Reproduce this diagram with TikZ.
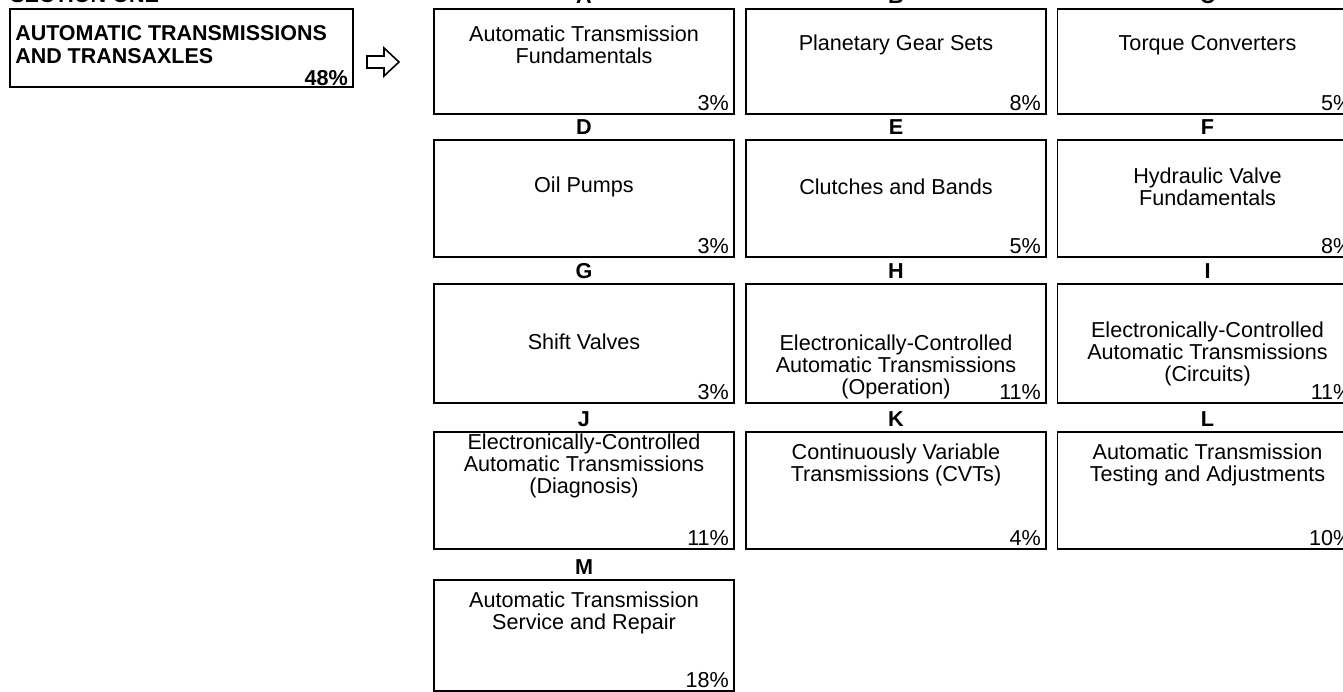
\documentclass[tikz,border=0pt]{standalone}
\usepackage{fontspec}
\setmainfont{Liberation Sans}
\usetikzlibrary{positioning}

\begin{document}
\begin{tikzpicture}[
    x=0.75pt, y=-0.75pt, % pixel grid, y pointing down
    % Styles
    topic/.style={ % Box of one subject
        draw,
        line width=1.2pt,
        minimum width=225pt,
        minimum height=87.75pt,
        inner sep=0pt
    },
    topictext/.style={ % Name of the subject
        align=center,
        inner sep=0pt,
        font=\fontsize{16.2}{16.5}\selectfont
    },
    share/.style={ % Weight in the lower right corner
        anchor=south east,
        xshift=-4.2pt,
        yshift=2.6pt,
        inner sep=0pt,
        font=\fontsize{16.2}{16.5}\selectfont
    },
    letter/.style={ % Letter above a box
        inner sep=0pt,
        font=\fontsize{16.2}{16.5}\selectfont\bfseries
    }
]
    \useasboundingbox (0,0) rectangle (1343,692);
    \clip (0,0) rectangle (1343,692);

    % Section box
    \node[letter, anchor=base west] (sec) at (10,2.5) {SECTION ONE};
    \node[topic, minimum width=257.25pt, minimum height=58.5pt] (main) at (181.5,48) {};
    \node[topictext, align=left, anchor=west, font=\fontsize{16.1}{17.25}\selectfont\bfseries] (maintxt) at (15,44.5) {AUTOMATIC TRANSMISSIONS\\AND TRANSAXLES};
    \node[share, yshift=-1.2pt, font=\fontsize{16.2}{16.5}\selectfont\bfseries] (pmain) at (main.south east) {48\%};

    % Block arrow
    \coordinate (arr) at (367,62);
    \draw[line width=1.2pt, miter limit=3] (arr) ++(0,-6) -- ++(17,0) -- ++(0,-8) -- ++(15,14) -- ++(-15,14) -- ++(0,-8) -- ++(-17,0) -- cycle;

    % Subject boxes
    \node[topic, minimum height=78.75pt] (A) at (584,61.5) {};
    \node[topic, minimum height=78.75pt] (B) at (896,61.5) {};
    \node[topic, minimum height=78.75pt] (C) at (1207.5,61.5) {};
    \node[topic] (D) at (584,198.5) {};
    \node[topic] (E) at (896,198.5) {};
    \node[topic] (F) at (1207.5,198.5) {};
    \node[topic, minimum height=89.25pt] (G) at (584,343.5) {};
    \node[topic, minimum height=89.25pt] (H) at (896,343.5) {};
    \node[topic, minimum height=89.25pt] (I) at (1207.5,343.5) {};
    \node[topic] (J) at (584,490.5) {};
    \node[topic] (K) at (896,490.5) {};
    \node[topic] (L) at (1207.5,490.5) {};
    \node[topic, minimum height=83.25pt] (M) at (584,635.5) {};

    % Letters
    \node[letter, above=3pt of A] (lA) {A};
    \node[letter, above=3pt of B] (lB) {B};
    \node[letter, above=3pt of C] (lC) {C};
    \node[letter, above=3pt of D] (lD) {D};
    \node[letter, above=3pt of E] (lE) {E};
    \node[letter, above=3pt of F] (lF) {F};
    \node[letter, above=3pt of G] (lG) {G};
    \node[letter, above=3pt of H] (lH) {H};
    \node[letter, above=3pt of I] (lI) {I};
    \node[letter, above=3pt of J] (lJ) {J};
    \node[letter, above=3pt of K] (lK) {K};
    \node[letter, above=3pt of L] (lL) {L};
    \node[letter, above=3pt of M] (lM) {M};

    % Subject names
    \node[topictext] (tA) at (584,45) {Automatic Transmission\\Fundamentals};
    \node[topictext] (tB) at (896,45) {Planetary Gear Sets};
    \node[topictext] (tC) at (1207.5,45) {Torque Converters};
    \node[topictext] (tD) at (584,187) {Oil Pumps};
    \node[topictext] (tE) at (896,187) {Clutches and Bands};
    \node[topictext] (tF) at (1207.5,187) {Hydraulic Valve\\Fundamentals};
    \node[topictext] (tG) at (584,342) {Shift Valves};
    \node[topictext] (tH) at (896,367) {Electronically-Controlled\\Automatic Transmissions\\(Operation)};
    \node[topictext] (tI) at (1207.5,354) {Electronically-Controlled\\Automatic Transmissions\\(Circuits)};
    \node[topictext] (tJ) at (584,466) {Electronically-Controlled\\Automatic Transmissions\\(Diagnosis)};
    \node[topictext] (tK) at (896,465) {Continuously Variable\\Transmissions (CVTs)};
    \node[topictext] (tL) at (1207.5,465) {Automatic Transmission\\Testing and Adjustments};
    \node[topictext] (tM) at (584,613) {Automatic Transmission\\Service and Repair};

    % Weights
    \node[share] (pA) at (A.south east) {3\%};
    \node[share] (pB) at (B.south east) {8\%};
    \node[share] (pC) at (C.south east) {5\%};
    \node[share] (pD) at (D.south east) {3\%};
    \node[share] (pE) at (E.south east) {5\%};
    \node[share] (pF) at (F.south east) {8\%};
    \node[share] (pG) at (G.south east) {3\%};
    \node[share] (pH) at (H.south east) {11\%};
    \node[share] (pI) at (I.south east) {11\%};
    \node[share] (pJ) at (J.south east) {11\%};
    \node[share] (pK) at (K.south east) {4\%};
    \node[share] (pL) at (L.south east) {10\%};
    \node[share] (pM) at (M.south east) {18\%};
\end{tikzpicture}
\end{document}
